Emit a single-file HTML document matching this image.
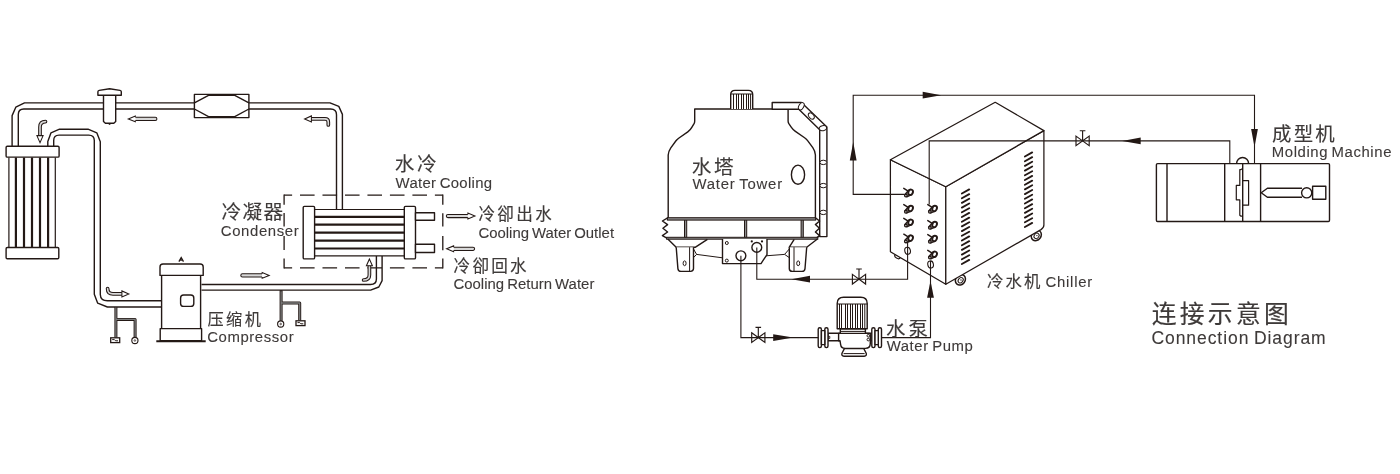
<!DOCTYPE html>
<html lang="zh-CN">
<head>
<meta charset="utf-8">
<title>连接示意图 Connection Diagram</title>
<style>
html,body{margin:0;padding:0;background:#fff;}
body{width:1400px;height:474px;overflow:hidden;}
svg{display:block;will-change:transform;}
.l{fill:none;stroke:#231815;stroke-width:1.4;stroke-linejoin:round;}
.w{fill:#fff;stroke:#231815;stroke-width:1.4;stroke-linejoin:round;}
.ar{fill:#d8d8d8;stroke:#231815;stroke-width:1.05;stroke-linejoin:miter;}
.ah{fill:#fff;stroke:#231815;stroke-width:1.05;stroke-linejoin:miter;}
text{fill:#3e3a39;}
.zh{font-family:"Liberation Sans","Noto Sans CJK SC",sans-serif;font-weight:400;stroke:#3e3a39;stroke-width:0.15px;}
.en{font-family:"Liberation Sans","Noto Sans CJK SC",sans-serif;font-weight:400;stroke:#3e3a39;stroke-width:0.1px;}
</style>
</head>
<body>
<svg width="1400" height="474" viewBox="0 0 1400 474" role="img" aria-label="Connection Diagram">
<rect width="1400" height="474" fill="#fff"/>
<g class="l">
<path d="M12.1,146.3 V115.6 L15.8,107.2 L24.5,102.85 H330 L338.8,106.4 L342.4,114.4 V209.5"/>
<path d="M18.3,146.3 V114.6 Q18.3,109 23.8,109 H330.6 Q336.5,109 336.5,114.8 V209.5"/>
<path d="M47.8,146.3 V141.5 L51,132.8 L59.5,129.2 H88 L96.8,132.8 L100.3,141.8 V294.4 Q100.5,300.7 107.4,300.7 H161.6"/>
<path d="M53.7,146.3 V140.4 Q53.7,135.1 59,135.1 H88.8 Q94.3,135.1 94.3,140.6 V294.2 L97.7,303.2 L107.4,307 H161.6"/>
<path d="M201.5,284.5 H370.5 Q376.4,284.5 376.4,279 V256"/>
<path d="M201.5,290.1 H370.6 L378.8,287 L382.1,280.6 V256"/>
</g>
<g class="l">
<rect x="6.1" y="146.3" width="53" height="10.8" rx="1.2" fill="#fff"/>
<rect x="6.1" y="247.5" width="52.7" height="11.2" rx="1.2" fill="#fff"/>
</g>
<line x1="8.9" y1="157.5" x2="8.9" y2="247" stroke="#231815" stroke-width="1.2"/>
<line x1="15.9" y1="157.5" x2="15.9" y2="247" stroke="#231815" stroke-width="2.2"/>
<line x1="24.0" y1="157.5" x2="24.0" y2="247" stroke="#231815" stroke-width="2.2"/>
<line x1="32.0" y1="157.5" x2="32.0" y2="247" stroke="#231815" stroke-width="2.2"/>
<line x1="40.0" y1="157.5" x2="40.0" y2="247" stroke="#231815" stroke-width="2.2"/>
<line x1="48.1" y1="157.5" x2="48.1" y2="247" stroke="#231815" stroke-width="2.2"/>
<line x1="55.3" y1="157.5" x2="55.3" y2="247" stroke="#231815" stroke-width="1.2"/>
<g class="w">
<path d="M103.5,95.2 V121.6 L105.4,123.3 H113.8 L115.7,121.6 V95.2 Z"/>
<path d="M97.9,95.2 V91.8 Q97.9,90.6 99.2,90.4 L109.6,88.7 L120,90.4 Q121.3,90.6 121.3,91.8 V95.2 Z"/>
</g>
<path d="M107.4,123.3 H111.8 L109.6,125 Z" fill="#231815"/>
<g class="l">
<rect x="194.4" y="94.4" width="54.5" height="23.2" fill="#fff"/>
<path d="M194.4,102.8 L209,95.2 H234.3 L248.9,102.8 M194.4,109 L209,116.8 H234.3 L248.9,109"/>
</g>
<path d="M284.1,195.1 H442.8 M284.1,267.8 H442.8" fill="none" stroke="#231815" stroke-width="1.3" stroke-dasharray="14.6 7.88" stroke-dashoffset="6.58"/>
<path d="M284.1,194.5 V204.8 M284.1,213 V226.4 M284.1,236 V250 M284.1,258.6 V268.4 M442.8,194.5 V204.8 M442.8,213.2 V226.6 M442.8,236 V250.2 M442.8,258.6 V268.4" fill="none" stroke="#231815" stroke-width="1.3"/>
<g class="w">
<rect x="303.2" y="206.4" width="11.4" height="52.5" rx="1.2"/>
<rect x="404.3" y="206.4" width="11.2" height="52.5" rx="1.2"/>
<rect x="415.5" y="212.7" width="19" height="7.6"/>
<rect x="415.5" y="244.3" width="19" height="8.2"/>
</g>
<line x1="314.6" y1="209.5" x2="404.3" y2="209.5" stroke="#231815" stroke-width="1.2"/>
<line x1="314.6" y1="216.9" x2="404.3" y2="216.9" stroke="#231815" stroke-width="2.2"/>
<line x1="314.6" y1="224.7" x2="404.3" y2="224.7" stroke="#231815" stroke-width="2.2"/>
<line x1="314.6" y1="232.7" x2="404.3" y2="232.7" stroke="#231815" stroke-width="2.2"/>
<line x1="314.6" y1="240.7" x2="404.3" y2="240.7" stroke="#231815" stroke-width="2.2"/>
<line x1="314.6" y1="248.5" x2="404.3" y2="248.5" stroke="#231815" stroke-width="2.2"/>
<line x1="314.6" y1="255.9" x2="404.3" y2="255.9" stroke="#231815" stroke-width="1.2"/>
<g class="w">
<rect x="161.6" y="275.4" width="39" height="53.2"/>
<path d="M160,275.4 V267 Q160,264 163,264 H200.2 Q203.2,264 203.2,267 V275.4 Z"/>
<rect x="160.2" y="328.6" width="41.4" height="12"/>
<rect x="180.6" y="295" width="13.2" height="11.4" rx="3"/>
</g>
<line x1="156.3" y1="341.2" x2="205.7" y2="341.2" stroke="#231815" stroke-width="2"/>
<path d="M178.9,261.6 L181.2,257.6 L183.5,261.6 M179.9,260.2 H182.5" fill="none" stroke="#231815" stroke-width="1.3"/>
<path d="M115.9,307 V337.6 M115.9,319.4 H135.1 V337.4" fill="none" stroke="#231815" stroke-width="3" stroke-linejoin="round"/>
<path d="M115.9,307.6 V337.6 M115.9,319.4 H135.1 V337.4" fill="none" stroke="#7d7d7d" stroke-width="1.3" stroke-linejoin="round"/>
<rect x="110.7" y="337.8" width="9" height="4.8" fill="#fff" stroke="#231815" stroke-width="1.3"/>
<path d="M112.2,339.6 h2.2 l1.2,1.2 h2.4" fill="none" stroke="#231815" stroke-width="1"/>
<circle cx="134.9" cy="340.5" r="3.1" fill="#fff" stroke="#231815" stroke-width="1.1"/>
<circle cx="134.9" cy="340.5" r="0.8" fill="none" stroke="#231815" stroke-width="0.7"/>
<path d="M281.1,290.2 V320.8 M281.1,303 H299.7 V320.6" fill="none" stroke="#231815" stroke-width="3" stroke-linejoin="round"/>
<path d="M281.1,291.2 V320.8 M281.1,303 H299.7 V320.6" fill="none" stroke="#7d7d7d" stroke-width="1.3" stroke-linejoin="round"/>
<rect x="296" y="320.8" width="9" height="4.8" fill="#fff" stroke="#231815" stroke-width="1.3"/>
<path d="M297.5,322.6 h2.2 l1.2,1.2 h2.4" fill="none" stroke="#231815" stroke-width="1"/>
<circle cx="280.7" cy="324" r="3.1" fill="#fff" stroke="#231815" stroke-width="1.1"/>
<circle cx="280.7" cy="324" r="0.8" fill="none" stroke="#231815" stroke-width="0.7"/>
<path class="ar" d="M135.3,117.3 L155.3,117.3 A1.6,1.6 0 0 1 155.3,120.5 L135.3,120.5"/>
<path class="ah" d="M135.3,120.5 L135.3,121.8 L128.3,118.9 L135.3,116.0 L135.3,117.3"/>
<path class="ar" d="M262.2,273.8 L242.4,273.8 A1.6,1.6 0 0 0 242.4,277.0 L262.2,277.0"/>
<path class="ah" d="M262.2,277.0 L262.2,278.3 L269.2,275.4 L262.2,272.5 L262.2,273.8"/>
<path class="ar" d="M467.9,214.4 L447.9,214.4 A1.6,1.6 0 0 0 447.9,217.6 L467.9,217.6"/>
<path class="ah" d="M467.9,217.6 L467.9,218.9 L474.9,216.0 L467.9,213.1 L467.9,214.4"/>
<path class="ar" d="M453.6,247.2 L473.0,247.2 A1.6,1.6 0 0 1 473.0,250.4 L453.6,250.4"/>
<path class="ah" d="M453.6,250.4 L453.6,251.7 L446.6,248.8 L453.6,245.9 L453.6,247.2"/>
<path d="M45.5,121.6 Q40,121.6 40,127 V135.5" fill="none" stroke="#231815" stroke-width="3.7" stroke-linecap="round" stroke-linejoin="round"/>
<path d="M45.5,121.6 Q40,121.6 40,127 V135.5" fill="none" stroke="#d8d8d8" stroke-width="1.6" stroke-linecap="round" stroke-linejoin="round"/>
<polygon class="ah" points="40,142.6 36.9,135.6 43.1,135.6"/>
<path d="M328.3,125 V122 Q328.3,118.9 325,118.9 H311.5" fill="none" stroke="#231815" stroke-width="3.7" stroke-linecap="round" stroke-linejoin="round"/>
<path d="M328.3,125 V122 Q328.3,118.9 325,118.9 H311.5" fill="none" stroke="#d8d8d8" stroke-width="1.6" stroke-linecap="round" stroke-linejoin="round"/>
<polygon class="ah" points="304.6,118.9 311.4,115.9 311.4,121.9"/>
<path d="M107.6,288.5 Q107.6,293.9 113,293.9 H121.8" fill="none" stroke="#231815" stroke-width="3.7" stroke-linecap="round" stroke-linejoin="round"/>
<path d="M107.6,288.5 Q107.6,293.9 113,293.9 H121.8" fill="none" stroke="#d8d8d8" stroke-width="1.6" stroke-linecap="round" stroke-linejoin="round"/>
<polygon class="ah" points="128.8,293.9 121.9,290.9 121.9,296.9"/>
<path d="M363.6,280 Q369.4,280 369.4,275 V265.8" fill="none" stroke="#231815" stroke-width="3.7" stroke-linecap="round" stroke-linejoin="round"/>
<path d="M363.6,280 Q369.4,280 369.4,275 V265.8" fill="none" stroke="#d8d8d8" stroke-width="1.6" stroke-linecap="round" stroke-linejoin="round"/>
<polygon class="ah" points="369.4,259 366.4,265.8 372.4,265.8"/>
<polygon points="941.2,95.2 922.7,91.8 922.7,98.60000000000001" fill="#231815"/>
<polygon points="853.2,142 849.8000000000001,160.5 856.6,160.5" fill="#231815"/>
<polygon points="1254.5,147 1251.1,129 1257.9,129" fill="#231815"/>
<polygon points="1122.2,140.9 1140.7,137.5 1140.7,144.3" fill="#231815"/>
<polygon points="791.4,279.2 810.0,275.8 810.0,282.59999999999997" fill="#231815"/>
<polygon points="793.2,337.6 773.2,334.20000000000005 773.2,341.0" fill="#231815"/>
<polygon points="930.5,280.8 927.1,297.8 933.9,297.8" fill="#231815"/>
<path d="M1076.0,136.1 L1089.1999999999998,145.70000000000002 V136.1 L1076.0,145.70000000000002 Z M1082.6,140.9 V130.70000000000002 M1079.8,130.70000000000002 H1085.3999999999999" fill="#fff" stroke="#231815" stroke-width="1.15" stroke-linejoin="miter"/>
<path d="M852.4,274.4 L865.6,284.0 V274.4 L852.4,284.0 Z M859,279.2 V269.0 M856.2,269.0 H861.8" fill="#fff" stroke="#231815" stroke-width="1.15" stroke-linejoin="miter"/>
<path d="M751.6999999999999,332.8 L764.9,342.40000000000003 V332.8 L751.6999999999999,342.40000000000003 Z M758.3,337.6 V327.40000000000003 M755.5,327.40000000000003 H761.0999999999999" fill="#fff" stroke="#231815" stroke-width="1.15" stroke-linejoin="miter"/>
<g class="l">
<path d="M668.2,218 V155 Q668.4,151.4 670.8,147.8 L675.8,141 Q677,139.4 679,138 L687.8,131.9 Q690.2,130.2 691.8,127.4 L694.2,123.4 Q694.7,122.4 694.7,121 V109 H788.1 V121 Q788.1,122.4 788.7,123.4 L791.2,127.2 Q792.8,129.6 795.4,131.4 L804.6,137.8 Q806.6,139.2 807.8,140.8 L812.8,147.6 Q815.3,151.2 815.4,155 V218"/>
<path d="M730.7,109 V94.6 Q730.7,90.4 735,90.4 H748.4 Q752.7,90.4 752.7,94.6 V109" fill="#fff"/>
</g>
<path d="M733.5,94 V109 M736.5,94 V109 M738.5,94 V109 M741.5,94 V109 M743.5,94 V109 M746.5,94 V109 M748.5,94 V109 M750.6,94 V109" fill="none" stroke="#231815" stroke-width="1"/>
<line x1="731" y1="94" x2="752.4" y2="94" stroke="#231815" stroke-width="1"/>
<g class="w">
<path d="M772.2,109.2 V102.5 H801.4 L826.9,127 V236.6 H819.7 V129.8 L798.8,109.2 Z"/>
</g>
<g fill="#fff" stroke="#231815" stroke-width="1">
<ellipse cx="801.3" cy="106.2" rx="2.4" ry="3.9" transform="rotate(30 801.3 106.2)"/>
<ellipse cx="811.3" cy="116" rx="2.3" ry="3.6" transform="rotate(-40 811.3 116)"/>
<ellipse cx="822.9" cy="128.2" rx="3.7" ry="2.5" transform="rotate(-12 822.9 128.2)"/>
<ellipse cx="823.3" cy="162.4" rx="3.4" ry="2.2"/>
<ellipse cx="823.3" cy="185.6" rx="3.4" ry="2.2"/>
<ellipse cx="823.3" cy="212.4" rx="3.4" ry="2.2"/>
</g>
<ellipse cx="798" cy="174.7" rx="6.6" ry="9.6" fill="none" stroke="#231815" stroke-width="1.4"/>
<g class="l">
<path d="M668,217.6 L662.4,221 L667.6,224.6 L662.9,228.2 L667.6,232 L662.4,235.6 L667.7,238.6"/>
<path d="M815.1,217.6 L819.6,221 L815.4,224.6 L819.4,228.2 L815.4,232 L819.6,235.6 L815.6,238.6"/>
</g>
<g fill="#8c8c8c" stroke="#231815" stroke-width="1">
<rect x="684.5" y="219" width="2.2" height="19"/>
<rect x="744.5" y="219" width="2.2" height="19"/>
<rect x="801.1" y="219" width="2.2" height="19"/>
<rect x="667.4" y="217.7" width="148.2" height="2.4"/>
<rect x="666.6" y="237.3" width="151.2" height="1.9"/>
</g>
<g class="l">
<path d="M667.8,239 L676.2,247.2 H695.5 L707.4,239.4"/>
<path d="M817.4,239 L806.7,247.2 H789.3 L794.2,239.4"/>
<path d="M676.2,247.2 L677.9,268.6 Q678.2,271.4 681,271.4 H690.6 Q693.4,271.4 693.5,268.6 V247.2" fill="#fff"/>
<path d="M806.7,247.2 L805,268.6 Q804.7,271.4 802,271.4 H792.2 Q789.4,271.4 789.3,268.6 V247.2" fill="#fff"/>
<path d="M689.6,247.2 V271 M794,247.2 V271" stroke-width="1"/>
<path d="M693.5,249 L696.6,254.4 L693.5,257.6 M696.6,254.4 L722.4,257.8" stroke-width="1"/>
<path d="M789.3,249 L784.6,254.4 L789.3,257.6 M784.6,254.4 L766,255.8" stroke-width="1"/>
<ellipse cx="684.6" cy="263.3" rx="1.5" ry="2.4" stroke-width="1"/>
<ellipse cx="798.2" cy="263.3" rx="1.5" ry="2.4" stroke-width="1"/>
<path d="M722.5,239 V263.6 H761 L767,254.6 V239" fill="#fff"/>
<circle cx="740.9" cy="255.8" r="4.9" fill="#fff"/>
<circle cx="756.8" cy="247.4" r="4.9" fill="#fff"/>
<circle cx="726.8" cy="243" r="1.5" stroke-width="1"/>
<circle cx="726.8" cy="260.6" r="1.5" stroke-width="1"/>
</g>
<circle cx="751.8" cy="241.4" r="1.1" fill="#231815"/><circle cx="762" cy="241.4" r="1.1" fill="#231815"/>
<ellipse cx="960.4" cy="279.8" rx="4.7" ry="5.6" transform="rotate(38 960.4 279.8)" fill="#fff" stroke="#231815" stroke-width="1.5"/>
<ellipse cx="960.9" cy="280.0" rx="2.3" ry="2.9" transform="rotate(38 960.4 279.8)" fill="#fff" stroke="#231815" stroke-width="1"/>
<circle cx="961.0" cy="280.0" r="0.7" fill="#231815"/>
<ellipse cx="1036.3" cy="235.4" rx="4.7" ry="5.6" transform="rotate(38 1036.3 235.4)" fill="#fff" stroke="#231815" stroke-width="1.5"/>
<ellipse cx="1036.8" cy="235.6" rx="2.3" ry="2.9" transform="rotate(38 1036.3 235.4)" fill="#fff" stroke="#231815" stroke-width="1"/>
<circle cx="1036.8999999999999" cy="235.6" r="0.7" fill="#231815"/>
<ellipse cx="897.6" cy="256.2" rx="3" ry="2.2" transform="rotate(30 897.6 256.2)" fill="#fff" stroke="#231815" stroke-width="1.2"/>
<g class="w" style="stroke-width:1.25">
<path d="M890.4,159.7 V251.8 L945.8,284.3 V186.8 Z"/>
<path d="M945.8,186.8 V284.3 L1041,229.6 Q1043.9,227.8 1043.9,225 V130.6 Z"/>
<path d="M890.4,159.7 L995.2,102.3 L1043.9,130.6 L945.8,186.8 Z"/>
</g>
<path d="M961.9,193.5 L969.2,189.4 M961.9,198.2 L969.2,194.1 M961.9,202.9 L969.2,198.8 M961.9,207.6 L969.2,203.5 M961.9,212.3 L969.2,208.2 M961.9,217.0 L969.2,212.9 M961.9,221.7 L969.2,217.6 M961.9,226.4 L969.2,222.3 M961.9,231.1 L969.2,227.0 M961.9,235.8 L969.2,231.7 M961.9,240.5 L969.2,236.4 M961.9,245.2 L969.2,241.1 M961.9,249.9 L969.2,245.8 M961.9,254.6 L969.2,250.5 M961.9,259.3 L969.2,255.2 M961.9,264.0 L969.2,259.9" fill="none" stroke="#231815" stroke-width="1.85" stroke-linecap="round"/>
<path d="M1024.9,156.5 L1032.2,152.4 M1024.9,161.2 L1032.2,157.1 M1024.9,165.9 L1032.2,161.8 M1024.9,170.6 L1032.2,166.5 M1024.9,175.3 L1032.2,171.2 M1024.9,180.0 L1032.2,175.9 M1024.9,184.7 L1032.2,180.6 M1024.9,189.4 L1032.2,185.3 M1024.9,194.1 L1032.2,190.0 M1024.9,198.8 L1032.2,194.7 M1024.9,203.5 L1032.2,199.4 M1024.9,208.2 L1032.2,204.1 M1024.9,212.9 L1032.2,208.8 M1024.9,217.6 L1032.2,213.5 M1024.9,222.3 L1032.2,218.2 M1024.9,227.0 L1032.2,222.9" fill="none" stroke="#231815" stroke-width="1.85" stroke-linecap="round"/>
<path d="M903.8,188.4 L907.4,190.6 M905.0,194.5 L909.0,190.1 M906.8,196.7 L911.0,194.9" fill="none" stroke="#231815" stroke-width="1.5" stroke-linecap="round"/>
<ellipse cx="910.6" cy="192.3" rx="2.2" ry="2.8" transform="rotate(25 910.6 192.3)" fill="#fff" stroke="#231815" stroke-width="1.9"/>
<circle cx="905.9" cy="195.6" r="1.3" fill="#fff" stroke="#231815" stroke-width="1.4"/>
<path d="M903.8,204.6 L907.4,206.8 M905.0,210.7 L909.0,206.3 M906.8,212.9 L911.0,211.1" fill="none" stroke="#231815" stroke-width="1.5" stroke-linecap="round"/>
<ellipse cx="910.6" cy="208.5" rx="2.2" ry="2.8" transform="rotate(25 910.6 208.5)" fill="#fff" stroke="#231815" stroke-width="1.9"/>
<circle cx="905.9" cy="211.8" r="1.3" fill="#fff" stroke="#231815" stroke-width="1.4"/>
<path d="M903.8,218.4 L907.4,220.6 M905.0,224.5 L909.0,220.1 M906.8,226.7 L911.0,224.9" fill="none" stroke="#231815" stroke-width="1.5" stroke-linecap="round"/>
<ellipse cx="910.6" cy="222.3" rx="2.2" ry="2.8" transform="rotate(25 910.6 222.3)" fill="#fff" stroke="#231815" stroke-width="1.9"/>
<circle cx="905.9" cy="225.6" r="1.3" fill="#fff" stroke="#231815" stroke-width="1.4"/>
<path d="M903.8,234.2 L907.4,236.4 M905.0,240.3 L909.0,235.9 M906.8,242.5 L911.0,240.7" fill="none" stroke="#231815" stroke-width="1.5" stroke-linecap="round"/>
<ellipse cx="910.6" cy="238.1" rx="2.2" ry="2.8" transform="rotate(25 910.6 238.1)" fill="#fff" stroke="#231815" stroke-width="1.9"/>
<circle cx="905.9" cy="241.4" r="1.3" fill="#fff" stroke="#231815" stroke-width="1.4"/>
<path d="M927.8,204.6 L931.4,206.8 M929.0,210.7 L933.0,206.3 M930.8,212.9 L935.0,211.1" fill="none" stroke="#231815" stroke-width="1.5" stroke-linecap="round"/>
<ellipse cx="934.6" cy="208.5" rx="2.2" ry="2.8" transform="rotate(25 934.6 208.5)" fill="#fff" stroke="#231815" stroke-width="1.9"/>
<circle cx="929.9" cy="211.8" r="1.3" fill="#fff" stroke="#231815" stroke-width="1.4"/>
<path d="M927.8,220.6 L931.4,222.8 M929.0,226.7 L933.0,222.3 M930.8,228.9 L935.0,227.1" fill="none" stroke="#231815" stroke-width="1.5" stroke-linecap="round"/>
<ellipse cx="934.6" cy="224.5" rx="2.2" ry="2.8" transform="rotate(25 934.6 224.5)" fill="#fff" stroke="#231815" stroke-width="1.9"/>
<circle cx="929.9" cy="227.8" r="1.3" fill="#fff" stroke="#231815" stroke-width="1.4"/>
<path d="M927.8,234.6 L931.4,236.8 M929.0,240.7 L933.0,236.3 M930.8,242.9 L935.0,241.1" fill="none" stroke="#231815" stroke-width="1.5" stroke-linecap="round"/>
<ellipse cx="934.6" cy="238.5" rx="2.2" ry="2.8" transform="rotate(25 934.6 238.5)" fill="#fff" stroke="#231815" stroke-width="1.9"/>
<circle cx="929.9" cy="241.8" r="1.3" fill="#fff" stroke="#231815" stroke-width="1.4"/>
<path d="M927.8,250.4 L931.4,252.6 M929.0,256.5 L933.0,252.1 M930.8,258.7 L935.0,256.9" fill="none" stroke="#231815" stroke-width="1.5" stroke-linecap="round"/>
<ellipse cx="934.6" cy="254.3" rx="2.2" ry="2.8" transform="rotate(25 934.6 254.3)" fill="#fff" stroke="#231815" stroke-width="1.9"/>
<circle cx="929.9" cy="257.6" r="1.3" fill="#fff" stroke="#231815" stroke-width="1.4"/>
<ellipse cx="907.6" cy="250.8" rx="2.8" ry="3.6" transform="rotate(-12 907.6 250.8)" fill="#fff" stroke="#231815" stroke-width="1.1"/>
<ellipse cx="930.6" cy="264.5" rx="2.8" ry="3.6" transform="rotate(-12 930.6 264.5)" fill="#fff" stroke="#231815" stroke-width="1.1"/>
<g class="w">
<path d="M828,333.3 H841 V340.7 H828 Z M865,333.3 H872 V340.7 H865 Z"/>
<path d="M840.4,333.4 H869.4 Q870.3,333.4 870.3,334.4 V343.6 Q870.3,348.4 865.4,348.4 H845.2 Q841,348.4 840.6,344.4 L840,340.7 H838.6 V333.4 Z"/>
<path d="M844.4,348.6 L842,353.2 Q841.2,356.2 844,356.2 H864.2 Q867,356.2 866.2,353.2 L863.8,348.6 Z"/>
<path d="M840.3,328.8 H865.4 V333.4 H840.3 Z"/>
<path d="M837.2,328.8 V303.4 Q837.2,297.2 843.6,297.2 H860.8 Q867.2,297.2 867.2,303.4 V328.8 Z"/>
<rect x="818.2" y="327.8" width="3.2" height="19.8" rx="1.5"/>
<rect x="824.8" y="327.8" width="3.2" height="19.8" rx="1.5"/>
<rect x="821.4" y="330.6" width="3.4" height="14"/>
<rect x="871.8" y="327.8" width="3.2" height="19.8" rx="1.5"/>
<rect x="878.3" y="327.8" width="3.2" height="19.8" rx="1.5"/>
<rect x="875" y="330.6" width="3.3" height="14"/>
</g>
<path d="M837.2,304 H867.2 M840.3,331.4 H865.4 M843.6,353.6 H864.6" fill="none" stroke="#231815" stroke-width="1"/>
<path d="M839.5,304 V328.8 M841.5,304 V328.8 M845.5,304 V328.8 M847.5,304 V328.8 M850.5,304 V328.8 M852.5,304 V328.8 M855.5,304 V328.8 M857.5,304 V328.8 M860.5,304 V328.8 M862.5,304 V328.8 M864.8,304 V328.8" fill="none" stroke="#231815" stroke-width="1"/>
<circle cx="868.3" cy="335.8" r="1.3" fill="#fff" stroke="#231815" stroke-width="1"/><circle cx="868.3" cy="339.6" r="1.3" fill="#fff" stroke="#231815" stroke-width="1"/>
<path d="M828.2,336.4 h1.6 v2 h-1.6" fill="none" stroke="#231815" stroke-width="0.9"/>
<g class="l">
<path d="M1236.6,163.6 A6,6.1 0 0 1 1248.6,163.6" fill="#fff"/>
<rect x="1156.4" y="163.6" width="173.1" height="57.9" rx="1.2" fill="#fff"/>
<path d="M1167,163.6 V221.5 M1224.7,163.6 V221.5 M1242.7,163.6 V221.5 M1260.6,163.6 V221.5"/>
<path d="M1242.7,168.6 L1241,169.6 H1239.8 V185.4 H1236.3 V199.8 H1239.8 V215.2 L1241,216.2 H1242.7 M1242.7,180.6 H1248.6 V205.2 H1242.7" stroke-width="1.2"/>
<path d="M1302,188.2 H1267.4 L1261.2,192.7 L1267.4,197.2 H1302" stroke-width="1.4"/>
<circle cx="1306.7" cy="192.8" r="5.1" stroke-width="1.4" fill="#fff"/>
<rect x="1312.6" y="186.2" width="13.2" height="13" stroke-width="1.4" fill="#fff"/>
</g>
<g fill="none" stroke="#231815" stroke-width="1.1">
<path d="M904.4,194.4 H853.2 V95.2 H1254.5 V163.6"/>
<path d="M929.2,204.6 V140.9 H1229.8 V163.6"/>
<path d="M756.8,247.4 V279.2 H907.6 V243"/>
<path d="M740.9,255.8 V337.6 H818.3"/>
<path d="M881,337.6 H930.5 V261"/>
</g>
<text class="zh" x="221.4" y="219.1" font-size="19.6" letter-spacing="1.42">冷凝器</text>
<text class="en" x="220.8" y="235.8" font-size="14.9" letter-spacing="0.63" word-spacing="-1.2">Condenser</text>
<text class="zh" x="394.8" y="170.9" font-size="19.6" letter-spacing="2.7">水冷</text>
<text class="en" x="395.6" y="188.1" font-size="14.9" letter-spacing="0.33" word-spacing="-1.2">Water Cooling</text>
<text class="zh" x="478.4" y="220.3" font-size="16.6" letter-spacing="2.33">冷卻出水</text>
<text class="en" x="478.4" y="237.5" font-size="14.9" letter-spacing="0.02" word-spacing="-1.2">Cooling Water Outlet</text>
<text class="zh" x="453.6" y="272.3" font-size="16.6" letter-spacing="2.23">冷卻回水</text>
<text class="en" x="453.4" y="289.0" font-size="14.9" letter-spacing="0.04" word-spacing="-1.2">Cooling Return Water</text>
<text class="zh" x="207.4" y="325.3" font-size="16.2" letter-spacing="2.46">压缩机</text>
<text class="en" x="207.2" y="342.0" font-size="14.9" letter-spacing="0.59" word-spacing="-1.2">Compressor</text>
<text class="zh" x="691.7" y="174.4" font-size="19.6" letter-spacing="2.6">水塔</text>
<text class="en" x="692.4" y="189.4" font-size="14.9" letter-spacing="0.82" word-spacing="-1.2">Water Tower</text>
<text class="zh" x="986.9" y="286.9" font-size="16.4" letter-spacing="2.21">冷水机</text>
<text class="en" x="1045.5" y="286.9" font-size="14.9" letter-spacing="0.75" word-spacing="-1.2">Chiller</text>
<text class="zh" x="885.9" y="335.6" font-size="19.4" letter-spacing="3.25">水泵</text>
<text class="en" x="886.7" y="351.4" font-size="14.9" letter-spacing="0.56" word-spacing="-1.2">Water Pump</text>
<text class="zh" x="1272.0" y="140.8" font-size="19.4" letter-spacing="2.24">成型机</text>
<text class="en" x="1271.8" y="157.4" font-size="14.9" letter-spacing="0.59" word-spacing="-1.2">Molding Machine</text>
<text class="zh" x="1151.7" y="323.0" font-size="24.8" letter-spacing="3.29">连接示意图</text>
<text class="en" x="1151.4" y="344.0" font-size="17.5" letter-spacing="0.94" word-spacing="-1.2">Connection Diagram</text>
</svg>
</body>
</html>
